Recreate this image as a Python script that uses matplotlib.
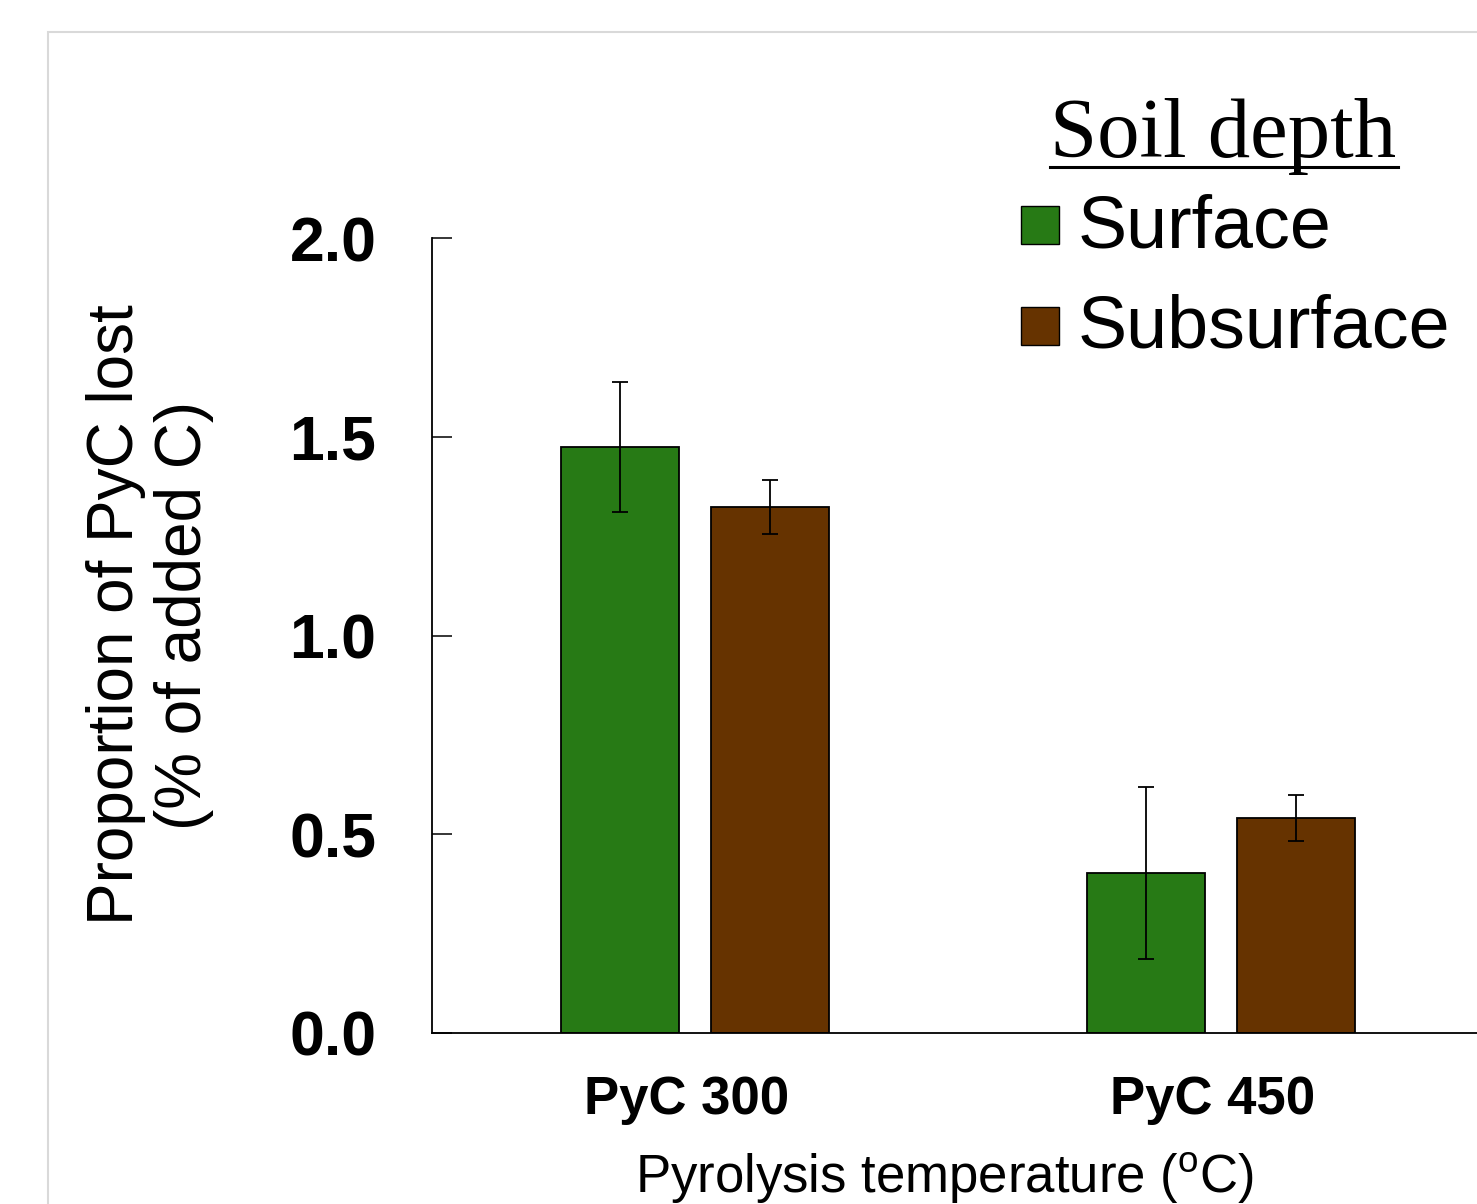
import matplotlib
matplotlib.use("Agg")
import matplotlib.pyplot as plt
from matplotlib.patches import Rectangle
from matplotlib.lines import Line2D
import matplotlib.transforms as mtransforms
import numpy as np

# data
groups = ["PyC 300", "PyC 450"]
surface = [1.474, 0.403]
surface_err = [0.163, 0.216]
subsurface = [1.323, 0.541]
subsurface_err = [0.068, 0.057]
series_names = ["Surface", "Subsurface"]
colors = ["#277a15", "#663300"]

W, H = 1477, 1204
plt.rcParams['font.family'] = ['Liberation Sans', 'DejaVu Sans']
plt.rcParams['mathtext.fontset'] = 'custom'
plt.rcParams['mathtext.rm'] = 'Liberation Sans'

fig = plt.figure(figsize=(W / 100, H / 100), dpi=100)

# light grey outer frame (runs off the right and bottom edges)
fig.patches.append(Rectangle((48 / W, -0.1), 1.2, 1.1 - 32 / H, transform=fig.transFigure,
                             fill=False, edgecolor="#d9d9d9", linewidth=1.5))

ax = fig.add_axes([432 / W, (H - 1033) / H, (1484 - 432) / W, (1033 - 238) / H])

x = np.arange(len(groups))
w = 0.224
off = 0.1425
ekw = dict(elinewidth=1.3, capthick=1.3, ecolor="black")
ax.bar(x - off, surface, w, yerr=surface_err, color=colors[0], edgecolor="black",
       linewidth=1.3, capsize=6, error_kw=ekw)
ax.bar(x + off, subsurface, w, yerr=subsurface_err, color=colors[1], edgecolor="black",
       linewidth=1.3, capsize=6, error_kw=ekw)

ax.set_xlim(-0.5, 1.5)
ax.set_ylim(0, 2.0)
ax.set_yticks([0.0, 0.5, 1.0, 1.5, 2.0])
ax.set_yticklabels(["0.0", "0.5", "1.0", "1.5", "2.0"], fontsize=45, fontweight="bold")
ax.tick_params(axis="y", direction="in", length=14.4, width=1.1, pad=40)
ax.set_xticks(x)
ax.set_xticklabels(groups, fontsize=38, fontweight="bold")
ax.tick_params(axis="x", length=0, pad=30)
# labels sit a little left of the group centres in the original
shift = mtransforms.ScaledTranslation(-8 / 100, 0, fig.dpi_scale_trans)
for lab in ax.get_xticklabels():
    lab.set_transform(lab.get_transform() + shift)
for s in ["top", "right"]:
    ax.spines[s].set_visible(False)
for s in ["left", "bottom"]:
    ax.spines[s].set_linewidth(1.3)

fig.text(150 / W, 1 - 615 / H, "Proportion of PyC lost\n(% of added C)", rotation=90,
         ha="center", va="center", multialignment="center", fontsize=46, linespacing=1.17)
fig.text(945 / W, 1 - 1193 / H, r"Pyrolysis temperature ($^{\mathrm{o}}$C)",
         ha="center", va="baseline", fontsize=38)

# legend drawn by hand
fig.text(1223 / W, 1 - 157 / H, "Soil depth", family=["Liberation Serif", "DejaVu Serif"],
         fontsize=61, ha="center", va="baseline")
fig.add_artist(Line2D([1050 / W, 1398 / W], [1 - 167 / H, 1 - 167 / H],
                      transform=fig.transFigure, color="black", linewidth=2.2))
for i, (name, c) in enumerate(zip(series_names, colors)):
    top = 206 + i * 101
    fig.patches.append(Rectangle((1021 / W, 1 - (top + 38) / H), 38 / W, 38 / H,
                                 transform=fig.transFigure, facecolor=c,
                                 edgecolor="black", linewidth=1.0))
    fig.text(1078 / W, 1 - (248 + i * 100) / H, name, fontsize=53, ha="left", va="baseline")

fig.savefig("out.png", dpi=100)
